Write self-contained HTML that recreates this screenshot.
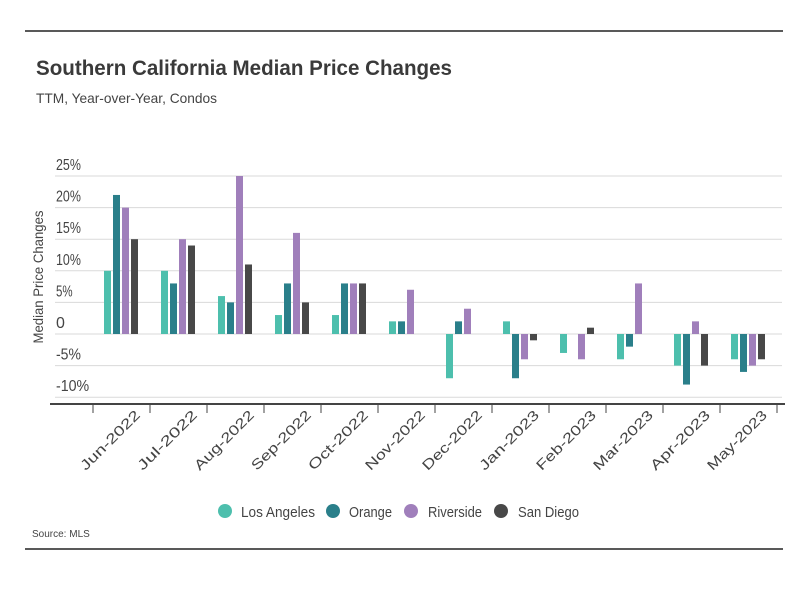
<!DOCTYPE html>
<html><head><meta charset="utf-8"><style>
body{margin:0;background:#fff;font-family:"Liberation Sans",sans-serif;}
svg text{font-family:"Liberation Sans",sans-serif;}
</style></head><body>
<svg id="chart" width="809" height="588" xmlns="http://www.w3.org/2000/svg">
<line x1="25" y1="31" x2="783" y2="31" stroke="#222" stroke-width="1.5"/>
<text x="36" y="75" font-size="21" font-weight="bold" fill="#3a3a3a" textLength="416" lengthAdjust="spacingAndGlyphs">Southern California Median Price Changes</text>
<text x="36" y="103" font-size="14" fill="#444" textLength="181" lengthAdjust="spacingAndGlyphs">TTM, Year-over-Year, Condos</text>
<text transform="translate(43,277) rotate(-90)" text-anchor="middle" font-size="14" fill="#444" textLength="133" lengthAdjust="spacingAndGlyphs">Median Price Changes</text>
<g id="grid"></g><g id="bars"></g><g id="xaxis"></g>
<g font-size="15" fill="#444">
<circle cx="225" cy="511" r="7" fill="#4dbfad"/>
<text x="241" y="517" textLength="74" lengthAdjust="spacingAndGlyphs">Los Angeles</text>
<circle cx="333" cy="511" r="7" fill="#2a7f8a"/>
<text x="349" y="517" textLength="43" lengthAdjust="spacingAndGlyphs">Orange</text>
<circle cx="411" cy="511" r="7" fill="#a07fbb"/>
<text x="428" y="517" textLength="54" lengthAdjust="spacingAndGlyphs">Riverside</text>
<circle cx="501" cy="511" r="7" fill="#484848"/>
<text x="518" y="517" textLength="61" lengthAdjust="spacingAndGlyphs">San Diego</text>
</g>
<text x="32" y="537" font-size="10" fill="#444">Source:  MLS</text>
<line x1="25" y1="549" x2="783" y2="549" stroke="#222" stroke-width="1.5"/>
</svg>
<script>
const categories=["Jun-2022","Jul-2022","Aug-2022","Sep-2022","Oct-2022","Nov-2022","Dec-2022","Jan-2023","Feb-2023","Mar-2023","Apr-2023","May-2023"];
const losAngeles=[10,10,6,3,3,2,-7,2,-3,-4,-5,-4];
const orange=[22,8,5,8,8,2,2,-7,0,-2,-8,-6];
const riverside=[20,15,25,16,8,7,4,-4,-4,8,2,-5];
const sanDiego=[15,14,11,5,8,0,0,-1,1,0,-5,-4];
const yTicks=[25,20,15,10,5,0,-5,-10];
const yTickLabels=["25%","20%","15%","10%","5%","0","-5%","-10%"];
const seriesNames=["los-angeles","orange","riverside","san-diego"];
const colors=["#4dbfad","#2a7f8a","#a07fbb","#484848"];
const NS="http://www.w3.org/2000/svg";
const y=v=>334-v*6.32;
const bandX=i=>93+i*57;
function mk(t,a,p){const e=document.createElementNS(NS,t);for(const k in a)e.setAttribute(k,a[k]);p.appendChild(e);return e;}
const grid=document.getElementById('grid');
yTicks.forEach((v,i)=>{
  const l=mk('line',{x1:55,x2:782,y1:y(v),y2:y(v),stroke:'#dadada','stroke-width':1},grid);
  
  
  const lab=yTickLabels[i];
  const attrs={x:56,y:y(v)-6,'font-size':16,fill:'#444'};
  if(lab.length>1){attrs.textLength=lab.length*8.3;attrs.lengthAdjust='spacingAndGlyphs';}
  const t=mk('text',attrs,grid);
  t.textContent=lab;
  
  
});
const bars=document.getElementById('bars');
[losAngeles,orange,riverside,sanDiego].forEach((s,si)=>{
  s.forEach((v,i)=>{
    if(v===0)return;
    const x=bandX(i)+11+si*9;
    const r=mk('rect',{x:x,y:Math.min(y(v),y(0)),width:7,height:Math.abs(y(v)-y(0)),fill:colors[si]},bars);
    
    
  });
});
const xa=document.getElementById('xaxis');
const ax=mk('line',{x1:50,x2:785,y1:404,y2:404,stroke:'#444','stroke-width':2},xa);


for(let i=0;i<=categories.length;i++){
  const tk=mk('line',{x1:bandX(i),x2:bandX(i),y1:404,y2:413,stroke:'#444','stroke-width':1},xa);
  
  
}
categories.forEach((c,i)=>{
  const cx=bandX(i)+41, cy=409;
  const t=mk('text',{transform:`translate(${cx},${cy}) rotate(-45)`,'text-anchor':'end','font-size':14,fill:'#444',dy:'0.7em',textLength:78,lengthAdjust:'spacingAndGlyphs'},xa);
  t.textContent=c;
  
  
});
</script>
</body></html>
